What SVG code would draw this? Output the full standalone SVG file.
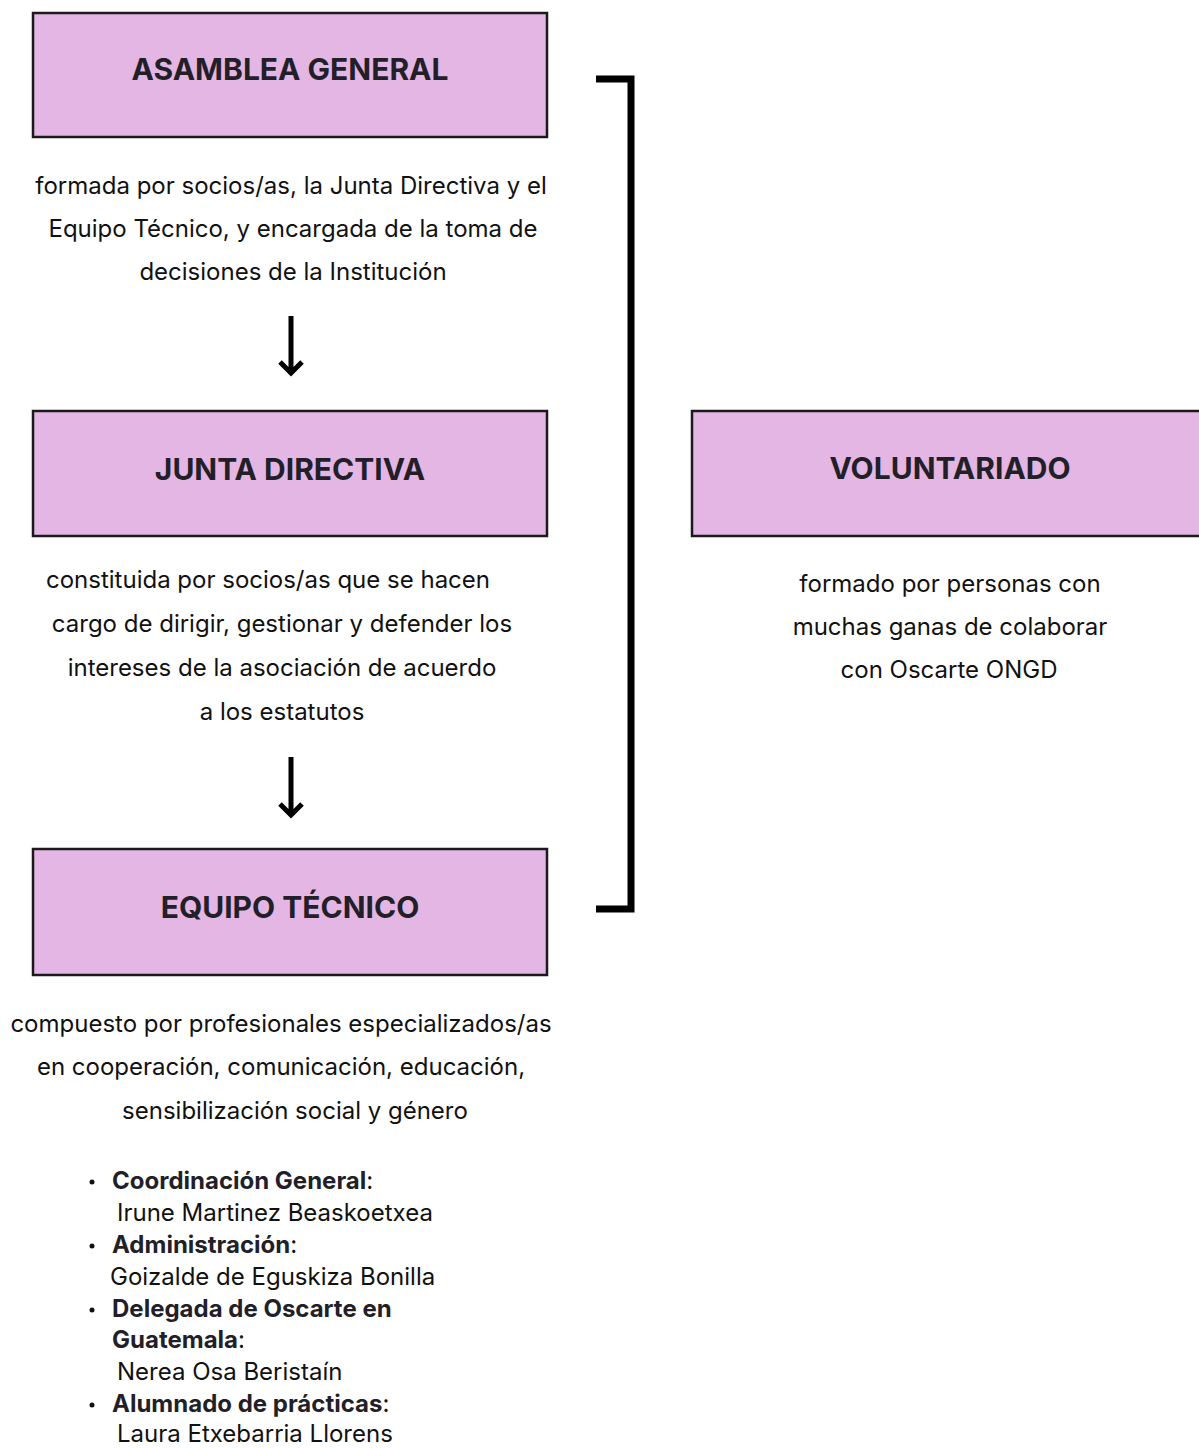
<svg xmlns="http://www.w3.org/2000/svg" width="1199" height="1448" viewBox="0 0 1199 1448">
<style>
.box{fill:#E4B6E4;stroke:#1a1a1a;stroke-width:2.5}
.title{font-family:Inter,"Liberation Sans",sans-serif;font-weight:700;font-size:30px;fill:#231f29;text-anchor:middle}
.body{font-family:Inter,"Liberation Sans",sans-serif;font-size:24px;fill:#111;text-anchor:middle}
.li{font-family:Inter,"Liberation Sans",sans-serif;font-size:24px;fill:#111}
.lb{font-weight:700;fill:#231f29}
.conn{fill:none;stroke:#000;stroke-width:7}
.arr{fill:none;stroke:#000;stroke-width:5;stroke-linecap:butt;stroke-linejoin:miter}
</style>
<rect width="1199" height="1448" fill="#fff"/>
<g id="asamblea">
<rect class="box" x="33" y="13" width="514" height="124"/>
<text class="title" x="290" y="80">ASAMBLEA GENERAL</text>
<text class="body" x="291" y="194">formada por socios/as, la Junta Directiva y el</text>
<text class="body" x="293" y="237">Equipo Técnico, y encargada de la toma de</text>
<text class="body" x="293" y="280">decisiones de la Institución</text>
</g>
<g id="junta">
<rect class="box" x="33" y="411" width="514" height="125"/>
<text class="title" x="290" y="480">JUNTA DIRECTIVA</text>
<text class="body" x="268" y="588">constituida por socios/as que se hacen</text>
<text class="body" x="282" y="632">cargo de dirigir, gestionar y defender los</text>
<text class="body" x="282" y="676">intereses de la asociación de acuerdo</text>
<text class="body" x="282" y="720">a los estatutos</text>
</g>
<g id="equipo">
<rect class="box" x="33" y="849" width="514" height="126"/>
<text class="title" x="290" y="918">EQUIPO TÉCNICO</text>
<text class="body" x="281" y="1032">compuesto por profesionales especializados/as</text>
<text class="body" x="281" y="1075">en cooperación, comunicación, educación,</text>
<text class="body" x="295" y="1119">sensibilización social y género</text>
<g id="lista">
<circle cx="92" cy="1182" r="2.5" fill="#111"/>
<circle cx="92" cy="1246" r="2.5" fill="#111"/>
<circle cx="92" cy="1310" r="2.5" fill="#111"/>
<circle cx="92" cy="1405" r="2.5" fill="#111"/>
<text class="li" x="112" y="1189"><tspan class="lb">Coordinación General</tspan>:</text>
<text class="li" x="117" y="1221">Irune Martinez Beaskoetxea</text>
<text class="li" x="112" y="1253"><tspan class="lb">Administración</tspan>:</text>
<text class="li" x="110" y="1285">Goizalde de Eguskiza Bonilla</text>
<text class="li" x="112" y="1317"><tspan class="lb">Delegada de Oscarte en</tspan></text>
<text class="li" x="112" y="1348"><tspan class="lb">Guatemala</tspan>:</text>
<text class="li" x="117" y="1380">Nerea Osa Beristaín</text>
<text class="li" x="112" y="1412"><tspan class="lb">Alumnado de prácticas</tspan>:</text>
<text class="li" x="117" y="1442">Laura Etxebarria Llorens</text>
</g>
</g>
<g id="voluntariado">
<rect class="box" x="692" y="411" width="512" height="125"/>
<text class="title" x="950" y="479">VOLUNTARIADO</text>
<text class="body" x="950" y="592">formado por personas con</text>
<text class="body" x="950" y="635">muchas ganas de colaborar</text>
<text class="body" x="949" y="678">con Oscarte ONGD</text>
</g>
<g id="connectors">
<path class="conn" d="M596 79H631V909H596"/>
<path class="arr" d="M291 316V373M280 362L291 373L302 362"/>
<path class="arr" d="M291 757V815M280 804L291 815L302 804"/>
</g>
</svg>
